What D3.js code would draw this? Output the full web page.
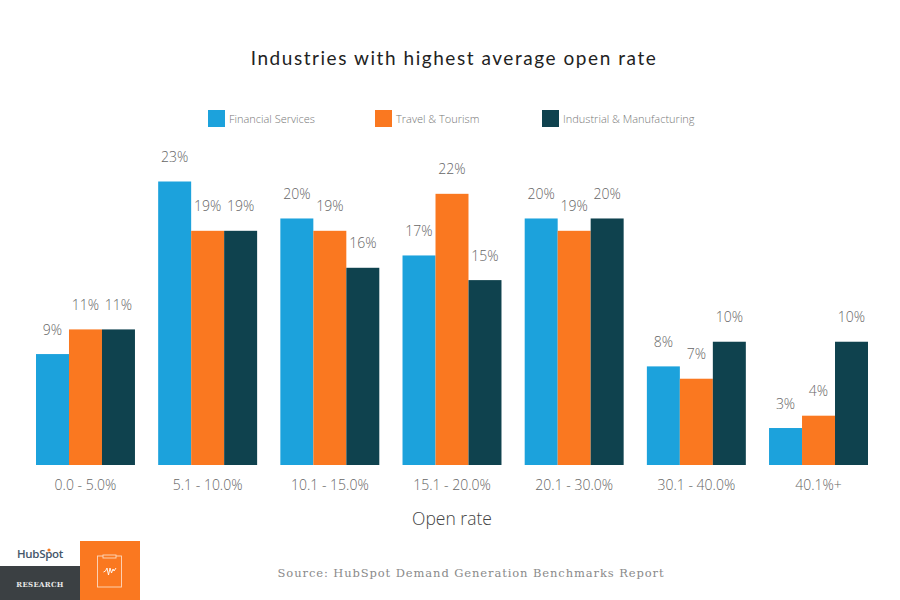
<!DOCTYPE html>
<html>
<head>
<meta charset="utf-8">
<style>
  html, body { margin: 0; padding: 0; background: #fff; }
  text { font-family: "Open Sans", sans-serif; }
</style>
</head>
<body>
<svg id="chart"></svg>
<script src="https://cdn.jsdelivr.net/npm/d3@7"></script>
<script>
const categories = ["0.0 - 5.0%", "5.1 - 10.0%", "10.1 - 15.0%", "15.1 - 20.0%", "20.1 - 30.0%", "30.1 - 40.0%", "40.1%+"];
const seriesNames = ["Financial Services", "Travel & Tourism", "Industrial & Manufacturing"];
const financial = [9, 23, 20, 17, 20, 8, 3];
const travel = [11, 19, 19, 22, 19, 7, 4];
const industrial = [11, 19, 16, 15, 20, 10, 10];
const seriesValues = [financial, travel, industrial];
const colors = ["#1ca2dc", "#fa7820", "#0f424e"];

const width = 900;
const height = 600;
const baseline = 465;

const svg = d3.select("#chart")
  .attr("width", width)
  .attr("height", height)
  .attr("viewBox", [0, 0, width, height])
  .style("display", "block");

const x = d3.scaleBand().domain(categories).range([36, 868]).paddingInner(0.19).paddingOuter(0);
const z = d3.scaleBand().domain(seriesNames).range([0, x.bandwidth()]);
const y = d3.scaleLinear().domain([0, 23]).range([baseline, 181.5]);

// Title
svg.append("text")
  .attr("x", 454).attr("y", 65)
  .attr("text-anchor", "middle")
  .attr("font-size", 19)
  .attr("letter-spacing", 1.55)
  .attr("fill", "#222")
  .style("font-family", "Lato, sans-serif")
  .text("Industries with highest average open rate");

// Legend
const legendX = [208, 375, 542];
const legend = svg.append("g")
  .selectAll("g")
  .data(seriesNames)
  .join("g")
  .attr("transform", (d, i) => `translate(${legendX[i]},110)`);

legend.append("rect")
  .attr("width", 17).attr("height", 17)
  .attr("fill", (d, i) => colors[i]);

legend.append("text")
  .attr("x", 21).attr("y", 13)
  .attr("font-size", 11)
  .attr("font-weight", 300)
  .attr("fill", "#777")
  .text(d => d);

// Bars
const groups = svg.append("g")
  .selectAll("g")
  .data(categories)
  .join("g")
  .attr("transform", d => `translate(${x(d)},0)`);

const cells = groups.selectAll("g")
  .data((d, i) => seriesNames.map((name, s) => ({ name, s, value: seriesValues[s][i] })))
  .join("g");

cells.append("rect")
  .attr("x", d => z(d.name))
  .attr("y", d => y(d.value))
  .attr("width", z.bandwidth())
  .attr("height", d => baseline - y(d.value))
  .attr("fill", d => colors[d.s]);

cells.append("text")
  .attr("x", d => z(d.name) + z.bandwidth() / 2)
  .attr("y", d => y(d.value) - 19.5)
  .attr("text-anchor", "middle")
  .attr("font-size", 14)
  .attr("font-weight", 300)
  .attr("fill", "#666")
  .text(d => d.value + "%");

// Category axis
const xAxis = svg.append("g")
  .attr("transform", `translate(0,${baseline})`)
  .call(d3.axisBottom(x).tickSize(0).tickPadding(15));
xAxis.select(".domain").remove();
xAxis.selectAll("text")
  .attr("font-size", 14)
  .attr("font-weight", 300)
  .attr("fill", "#666")
  .style("font-family", '"Open Sans", sans-serif');

svg.append("text")
  .attr("x", 452).attr("y", 525)
  .attr("text-anchor", "middle")
  .attr("font-size", 17.5)
  .attr("font-weight", 300)
  .attr("fill", "#444")
  .text("Open rate");

// Source
svg.append("text")
  .attr("x", 471).attr("y", 577)
  .attr("text-anchor", "middle")
  .attr("font-size", 11.5)
  .attr("letter-spacing", 0.9)
  .attr("fill", "#8a8a8a")
  .style("font-family", '"DejaVu Serif", serif')
  .text("Source: HubSpot Demand Generation Benchmarks Report");

// HubSpot badge
const badge = svg.append("g");
badge.append("rect").attr("x", 0).attr("y", 566).attr("width", 80).attr("height", 34).attr("fill", "#3b4043");
badge.append("rect").attr("x", 80).attr("y", 541).attr("width", 60).attr("height", 59).attr("fill", "#fa7820");

badge.append("text")
  .attr("x", 17).attr("y", 558)
  .attr("font-size", 11.5)
  .attr("font-weight", 600)
  .attr("letter-spacing", -0.3)
  .attr("fill", "#46566a")
  .text("HubSpot");
badge.append("circle").attr("cx", 49).attr("cy", 550).attr("r", 1.6).attr("fill", "#f47a20");

badge.append("text")
  .attr("x", 40).attr("y", 587)
  .attr("text-anchor", "middle")
  .attr("font-size", 7)
  .attr("font-weight", 700)
  .attr("letter-spacing", 0.3)
  .attr("fill", "#e8e8e8")
  .style("font-family", '"DejaVu Serif", serif')
  .text("RESEARCH");

// Clipboard icon
badge.append("rect")
  .attr("x", 97.5).attr("y", 556).attr("width", 24).attr("height", 31)
  .attr("fill", "none").attr("stroke", "#fdd9bf").attr("stroke-width", 0.9);
badge.append("rect")
  .attr("x", 103).attr("y", 555).attr("width", 13).attr("height", 3)
  .attr("fill", "#fa7820").attr("stroke", "#fdd9bf").attr("stroke-width", 0.9);
badge.append("path")
  .attr("d", "M103.500 572l2-1 1.500-3 1.500 7 1.500-7 1.500 5 1.500-4 1 2 2-3")
  .attr("fill", "none").attr("stroke", "#fff").attr("stroke-width", 0.9);
</script>
</body>
</html>
